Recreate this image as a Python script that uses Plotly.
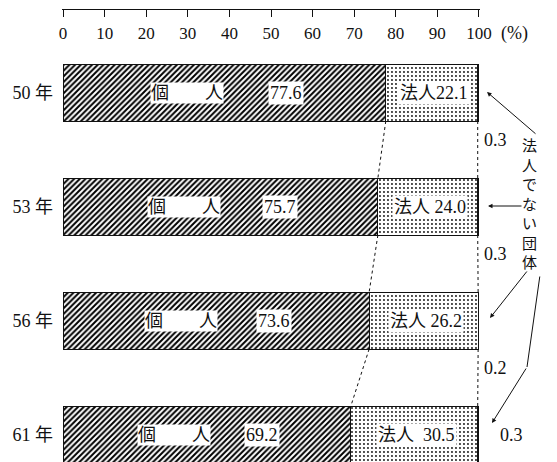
import plotly.graph_objects as go

# ---- data ----
years = ["50 年", "53 年", "56 年", "61 年"]
kojin = [77.6, 75.7, 73.6, 69.2]          # 個人
hojin = [22.1, 24.0, 26.2, 30.5]          # 法人
hojin_nashi = [0.3, 0.3, 0.2, 0.3]        # 法人でない団体
hojin_labels = ["法人22.1", "法人\u00a024.0", "法人\u00a026.2", "法人\u00a0\u00a030.5"]
x_ticks = [0, 10, 20, 30, 40, 50, 60, 70, 80, 90, 100]

pos = list(range(len(years)))
NUM_FONT = "Liberation Serif, Noto Sans CJK JP, serif"
BLACK = "#111111"

W, H = 557, 462
ML, MR, MT, MB = 62, 77, 10, 0
PW = W - ML - MR
PH = H - MT - MB


def px(xp):  # pixel x -> paper x
    return (xp - ML) / PW


def py(yp):  # pixel y -> paper y
    return (H - MB - yp) / PH


fig = go.Figure()

fig.add_trace(go.Bar(
    y=pos, x=kojin, orientation="h", width=0.5, name="個人",
    marker=dict(color="white", line=dict(color=BLACK, width=1),
                pattern=dict(shape="/", fgcolor="black", bgcolor="white",
                             size=4, solidity=0.5, fgopacity=1)),
))
fig.add_trace(go.Bar(
    y=pos, x=hojin, orientation="h", width=0.5, name="法人",
    marker=dict(color="white", line=dict(color=BLACK, width=1),
                pattern=dict(shape=".", fgcolor="#111111", bgcolor="white",
                             size=4, solidity=0.18, fgopacity=1)),
))
fig.add_trace(go.Bar(
    y=pos, x=hojin_nashi, orientation="h", width=0.5, name="法人でない団体",
    marker=dict(color="#555555", line=dict(color=BLACK, width=1)),
))

# dotted connector lines between bars
half = 0.25
cum1 = kojin
cum2 = [a + b for a, b in zip(kojin, hojin)]
for cum in (cum1, cum2):
    xs, ys = [], []
    for i in range(len(years) - 1):
        xs += [cum[i], cum[i + 1], None]
        ys += [pos[i] + half, pos[i + 1] - half, None]
    fig.add_trace(go.Scatter(x=xs, y=ys, mode="lines", cliponaxis=False,
                             line=dict(color=BLACK, width=1, dash="dot"),
                             hoverinfo="skip", showlegend=False))

# invisible trace on the label axis so it is drawn
fig.add_trace(go.Scatter(x=[0, 100], y=[None, None], xaxis="x2", yaxis="y",
                         mode="markers", showlegend=False, hoverinfo="skip"))

ann = []
lab_font = dict(family=NUM_FONT, size=18, color=BLACK)
for i in range(len(years)):
    ann.append(dict(x=kojin[i] * 0.385, y=pos[i], xref="x", yref="y",
                    text="個\u3000\u3000人", showarrow=False, bgcolor="white",
                    borderpad=0, font=lab_font))
    ann.append(dict(x=kojin[i] * 0.69, y=pos[i], xref="x", yref="y",
                    text=f"{kojin[i]:.1f}", showarrow=False, bgcolor="white",
                    borderpad=1, font=lab_font))
    ann.append(dict(x=kojin[i] + hojin[i] / 2 + 0.5, y=pos[i], xref="x", yref="y",
                    text=hojin_labels[i], showarrow=False, bgcolor="white",
                    borderpad=1, font=lab_font))
    # small-value labels
    if i < len(years) - 1:
        ann.append(dict(x=px(482), y=pos[i] + 0.42, xref="paper", yref="y", xanchor="left",
                        text=f"{hojin_nashi[i]:.1f}", showarrow=False, font=lab_font))
    else:
        ann.append(dict(x=px(498), y=pos[i], xref="paper", yref="y", xanchor="left",
                        text=f"{hojin_nashi[i]:.1f}", showarrow=False, font=lab_font))

# (%) unit label
ann.append(dict(x=px(499), y=py(33), xref="paper", yref="paper", xanchor="left",
                yanchor="middle", text="(%)", showarrow=False,
                font=dict(family=NUM_FONT, size=18, color=BLACK)))

# vertical label 法人でない団体
ann.append(dict(x=px(539), y=py(203), xref="paper", yref="paper", showarrow=False,
                text="<br>".join(list("法人でない団体")),
                font=dict(family="Noto Sans CJK JP", size=15, color=BLACK)))

arrow = dict(showarrow=True, arrowhead=2, arrowsize=0.9, arrowwidth=1,
             arrowcolor=BLACK, text="", xref="paper", yref="paper")
ann.append(dict(arrow, x=px(487), y=py(92), ax=50, ay=43))
ann.append(dict(arrow, x=px(488), y=py(206), ax=35, ay=0))
ann.append(dict(arrow, x=px(490), y=py(318), ax=38, ay=-48))
ann.append(dict(arrow, x=px(527), y=py(367), ax=13, ay=-92, arrowhead=0))
ann.append(dict(arrow, x=px(492), y=py(423), ax=35, ay=-56))

fig.update_layout(
    width=W, height=H,
    margin=dict(l=ML, r=MR, t=MT, b=MB),
    paper_bgcolor="white", plot_bgcolor="white",
    barmode="stack", showlegend=False, bargap=0.5,
    annotations=ann,
    xaxis=dict(side="top", range=[-0.25, 100.25], tickvals=x_ticks,
               showline=True, linecolor=BLACK, linewidth=1, mirror=False,
               ticks="inside", ticklen=7, tickcolor=BLACK, tickwidth=1,
               showticklabels=False, showgrid=False, zeroline=False,
               automargin=False),
    xaxis2=dict(overlaying="x", anchor="free", position=py(21), side="bottom",
                range=[-0.25, 100.25], tickvals=x_ticks,
                ticktext=[str(v) for v in x_ticks],
                showline=False, ticks="", showgrid=False, zeroline=False,
                automargin=False,
                tickfont=dict(family=NUM_FONT, size=17, color=BLACK)),
    yaxis=dict(range=[3.241, -0.724], tickvals=pos, ticktext=years,
               showline=False, showgrid=False, zeroline=False, ticks="",
               ticklabelstandoff=8, automargin=False,
               tickfont=dict(family=NUM_FONT, size=18, color=BLACK)),
)

fig.write_html("out.html", config={"displayModeBar": False},
               post_script="document.body.style.margin='0';document.body.style.overflow='hidden';")
